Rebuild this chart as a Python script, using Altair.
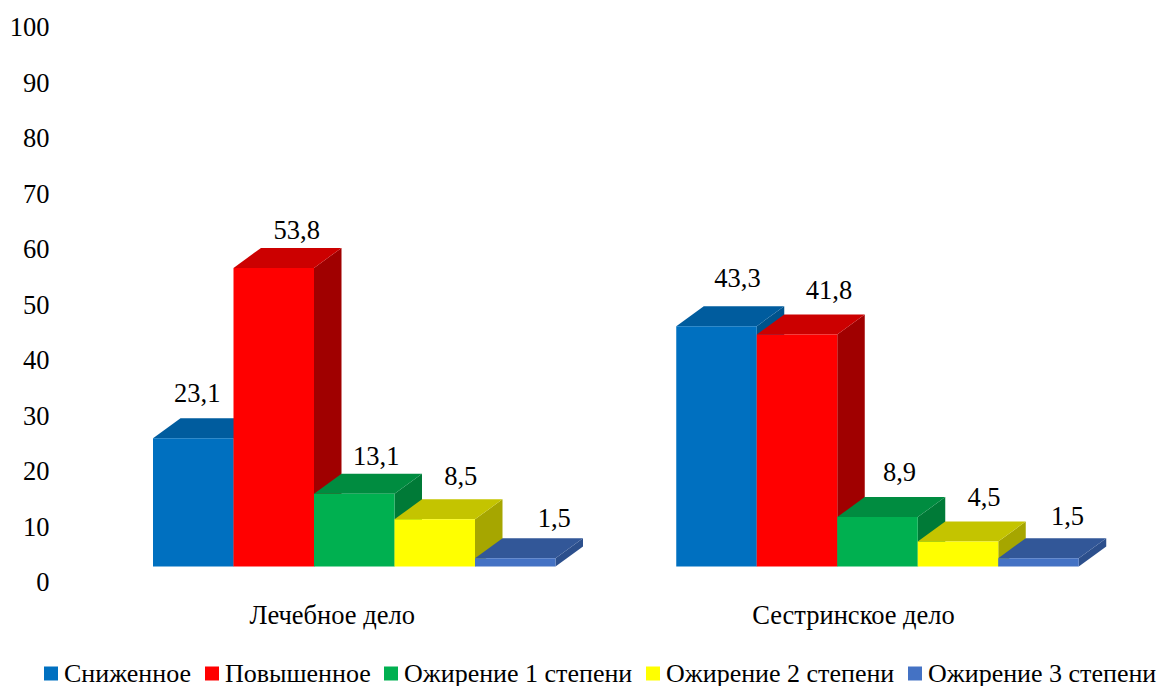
import altair as alt
import pandas as pd

categories = ["Лечебное дело", "Сестринское дело"]
series = ["Сниженное", "Повышенное", "Ожирение 1 степени", "Ожирение 2 степени", "Ожирение 3 степени"]
values_med = [23.1, 53.8, 13.1, 8.5, 1.5]
values_nurse = [43.3, 41.8, 8.9, 4.5, 1.5]

front_colors = ["#0070C0", "#FF0000", "#00B050", "#FFFF00", "#4472C4"]
top_colors = ["#005C9E", "#CC0000", "#008C40", "#C4C400", "#325798"]
side_colors = ["#00538C", "#A00000", "#007A37", "#A6A600", "#2C4F8C"]

FONT = "Liberation Serif"
FS = 26.5
PX_UNIT = 80.5
PX_VAL = 5.55
GROUP_STEP = 6.5
DEPTH_X = 27.5 / PX_UNIT
DEPTH_Y = 20 / PX_VAL

# manual label nudges (pixels) relative to the bar centre, as in the source chart
label_dx = [[4, 23, 22, 26, 39], [21, 32, 22, 26, 29]]
label_dy = [[24, 17, 17, 22, 19], [27, 24, 24, 24, 21]]
cat_dx = [-22, -24]

L, T = 52, 3.5
W, H = 1100, 555
x_scale = alt.Scale(domain=[-93 / PX_UNIT, (W - 93) / PX_UNIT], nice=False, zero=False)
y_scale = alt.Scale(domain=[0, 100], nice=False)
color_scale = alt.Scale(domain=series, range=front_colors)

y_axis = alt.Axis(
    values=list(range(0, 101, 10)), domain=False, ticks=False, grid=False, title=None,
    labelFont=FONT, labelFontSize=FS, labelColor="#000000", labelPadding=11,
    labelOffset=16, labelFlush=False, labelOverlap=False,
)

X = alt.X("x:Q", scale=x_scale, axis=None)
Y_AREA = alt.Y("y:Q", scale=y_scale, axis=y_axis)

layers = []
labels = []
for g, vals in enumerate([values_med, values_nurse]):
    for i, v in enumerate(vals):
        x0 = g * GROUP_STEP + i
        x1 = x0 + 1
        side = pd.DataFrame({
            "x": [x1, x1 + DEPTH_X],
            "y": [0, DEPTH_Y],
            "y2": [v, v + DEPTH_Y],
        })
        top = pd.DataFrame({
            "x": [x0, x0 + DEPTH_X, x1, x1 + DEPTH_X],
            "y": [v, v + DEPTH_Y, v + DEPTH_Y, v + DEPTH_Y],
            "y2": [v, v, v, v + DEPTH_Y],
        })
        layers.append(
            alt.Chart(side).mark_area(color=side_colors[i], interpolate="linear").encode(x=X, y=Y_AREA, y2="y2:Q")
        )
        layers.append(
            alt.Chart(top).mark_area(color=top_colors[i], interpolate="linear").encode(x=X, y=Y_AREA, y2="y2:Q")
        )
        front = pd.DataFrame({"x": [x0], "x2": [x1], "y": [0], "y2": [v], "s": [series[i]]})
        layers.append(
            alt.Chart(front).mark_rect().encode(
                x=X, x2="x2:Q", y=Y_AREA, y2="y2:Q",
                color=alt.Color("s:N", scale=color_scale, legend=alt.Legend(
                    title=None, orient="none", direction="horizontal", columns=5,
                    legendX=-22, legendY=649, symbolType="square", symbolSize=196,
                    symbolStrokeWidth=0, labelFont=FONT, labelFontSize=26, labelColor="#000000",
                    labelOffset=0, columnPadding=7, labelLimit=400, padding=0,
                )),
            )
        )
        labels.append({
            "x": x0 + 0.5 + label_dx[g][i] / PX_UNIT,
            "y": v + DEPTH_Y + label_dy[g][i] / PX_VAL,
            "t": f"{v:.1f}".replace(".", ","),
        })

layers.append(
    alt.Chart(pd.DataFrame(labels))
    .mark_text(font=FONT, fontSize=FS, color="#000000", baseline="middle")
    .encode(x=X, y=Y_AREA, text="t:N")
)

cat_df = pd.DataFrame({
    "x": [g * GROUP_STEP + 2.5 + cat_dx[g] / PX_UNIT for g in range(2)],
    "y": [-49 / PX_VAL] * 2,
    "t": categories,
})
layers.append(
    alt.Chart(cat_df)
    .mark_text(font=FONT, fontSize=FS, color="#000000", baseline="middle")
    .encode(x=X, y=Y_AREA, text="t:N")
)

chart = (
    alt.layer(*layers)
    .resolve_scale(color="shared")
    .properties(
        width=W,
        height=H,
        autosize=alt.AutoSizeParams(type="none"),
        padding={"left": L, "top": T, "right": 7, "bottom": 120},
        background="white",
    )
    .configure_view(stroke=None)
)

chart.save("out.html", embed_options={"renderer": "svg", "actions": False})
